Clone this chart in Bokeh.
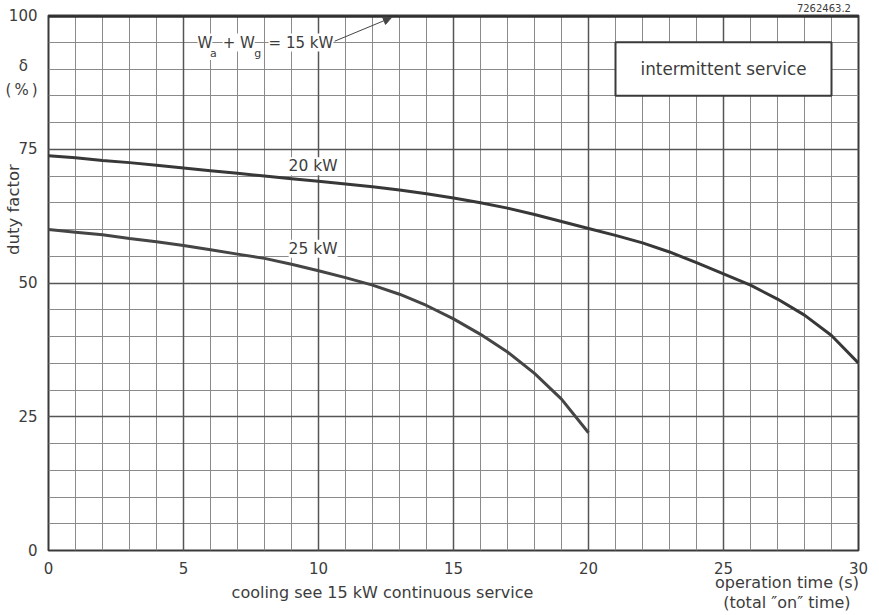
from bokeh.plotting import figure
from bokeh.models import (Range1d, FixedTicker, Grid, Label, BoxAnnotation, Arrow,
                          NormalHead, LinearAxis)
from bokeh.embed import file_html
from bokeh.resources import INLINE

# ---- data ----
time_20kw = [0, 1, 2, 3, 4, 5, 6, 7, 8, 9, 10, 11, 12, 13, 14, 15, 16, 17, 18, 19, 20,
             21, 22, 23, 24, 25, 26, 27, 28, 29, 30]
duty_20kw = [73.8, 73.4, 72.9, 72.5, 72.0, 71.5, 71.0, 70.5, 70.0, 69.5, 69.0, 68.5, 68.0,
             67.4, 66.7, 65.9, 65.0, 64.0, 62.8, 61.5, 60.2, 58.9, 57.5, 55.8, 53.8, 51.7,
             49.6, 47.0, 44.0, 40.2, 35.0]
time_25kw = [0, 1, 2, 3, 4, 5, 6, 7, 8, 9, 10, 11, 12, 13, 14, 15, 16, 17, 18, 19, 20]
duty_25kw = [60.0, 59.5, 59.0, 58.3, 57.7, 57.0, 56.2, 55.4, 54.6, 53.5, 52.3, 51.0, 49.6,
             47.9, 45.8, 43.3, 40.4, 37.1, 33.1, 28.3, 22.0]
time_15kw = [0, 30]
duty_15kw = [100, 100]
x_ticks = [0, 5, 10, 15, 20, 25, 30]
y_ticks = [0, 25, 50, 75, 100]
x_minor = list(range(0, 31))
y_minor = list(range(0, 101, 5))
y_unit_ticks = {90.5: "\u03b4\u00a0\u00a0", 86.1: "(\u2009%\u2009)"}
x_caption_ticks = {12.37: "\ncooling see 15 kW continuous service",
                   27.35: "operation time (s)\n\n(total \u2033on\u2033 time)"}
ref_ticks = {28.72: "7262463.2"}

FONT = "DejaVu Sans"
TXT = "#3c3c3c"
INK = "#3a3a3a"

p = figure(width=879, height=615, output_backend="svg", toolbar_location=None,
           x_range=Range1d(0, 30), y_range=Range1d(0, 100),
           min_border_left=48, min_border_right=21, min_border_top=15, min_border_bottom=65)
p.background_fill_color = "white"
p.border_fill_color = "white"
p.outline_line_color = INK
p.outline_line_width = 2

# grids
p.xgrid.ticker = FixedTicker(ticks=x_minor)
p.ygrid.ticker = FixedTicker(ticks=y_minor)
for g in (p.xgrid[0], p.ygrid[0]):
    g.grid_line_color = "#8a8a8a"
    g.grid_line_width = 1
    g.grid_line_alpha = 1.0
gx = Grid(dimension=0, ticker=FixedTicker(ticks=x_ticks), grid_line_color="#555555", grid_line_width=1.5)
gy = Grid(dimension=1, ticker=FixedTicker(ticks=y_ticks), grid_line_color="#555555", grid_line_width=1.5)
p.add_layout(gx)
p.add_layout(gy)

def style_axis(ax, size="15px"):
    ax.axis_line_color = None
    ax.major_tick_line_color = None
    ax.minor_tick_line_color = None
    ax.major_label_text_font = FONT
    ax.major_label_text_font_size = size
    ax.major_label_text_color = TXT

# main axes
xa = p.xaxis[0]
xa.ticker = FixedTicker(ticks=x_ticks)
style_axis(xa)
xa.major_label_standoff = 5

ya = p.yaxis[0]
ya.ticker = FixedTicker(ticks=y_ticks + list(y_unit_ticks.keys()))
ya.major_label_overrides = y_unit_ticks
style_axis(ya)
ya.major_label_standoff = 5
ya.axis_label = "\u00a0" * 28 + "duty factor"
ya.axis_label_text_font = FONT
ya.axis_label_text_font_size = "16.5px"
ya.axis_label_text_font_style = "normal"
ya.axis_label_text_color = TXT
ya.axis_label_standoff = -20

# caption axis below
xb = LinearAxis(ticker=FixedTicker(ticks=list(x_caption_ticks.keys())),
                major_label_overrides=x_caption_ticks)
style_axis(xb, "16px")
xb.major_label_text_line_height = 0.54
xb.major_label_standoff = -10
p.add_layout(xb, "below")

# reference number above
xc = LinearAxis(ticker=FixedTicker(ticks=list(ref_ticks.keys())),
                major_label_overrides=ref_ticks)
style_axis(xc, "10px")
xc.major_label_standoff = -2
p.add_layout(xc, "above")

# curves
p.line(time_15kw, duty_15kw, line_color="#2e2e2e", line_width=4.5)
p.line(time_20kw, duty_20kw, line_color="#383838", line_width=3)
p.line(time_25kw, duty_25kw, line_color="#454545", line_width=3)

def lab(x, y, text, size="15.5px", align="center", baseline="middle", bg=None):
    l = Label(x=x, y=y, text=text, text_font=FONT,
              text_font_size=size, text_color=TXT, text_align=align, text_baseline=baseline)
    if bg:
        l.background_fill_color = bg
        l.background_fill_alpha = 1.0
    p.add_layout(l)
    return l

# curve labels
lab(9.8, 71.8, "20 kW", bg="white")
lab(9.8, 56.4, "25 kW", bg="white")

# W_a + W_g = 15 kW
lab(5.52, 94.95, "W", size="15px", align="left", bg="white")
lab(5.98, 92.9, "a", size="11px", align="left", bg="white")
lab(6.45, 94.95, "+ W", size="15px", align="left", bg="white")
lab(7.62, 92.9, "g", size="11px", align="left", bg="white")
lab(8.15, 94.95, "= 15 kW", size="15px", align="left", bg="white")
p.add_layout(Arrow(x_start=10.6, y_start=95.2, x_end=12.7, y_end=99.6,
                   line_color="#444444", line_width=1,
                   end=NormalHead(size=8, fill_color="#444444", line_color="#444444")))

# intermittent service box
p.add_layout(BoxAnnotation(left=21, right=29, bottom=85, top=95, fill_color="white",
                           fill_alpha=1.0, line_color="#3a3a3a", line_width=2, line_alpha=1.0))
lab(25, 90, "intermittent service", size="16.8px")

open("out.html", "w").write(file_html(p, INLINE))
